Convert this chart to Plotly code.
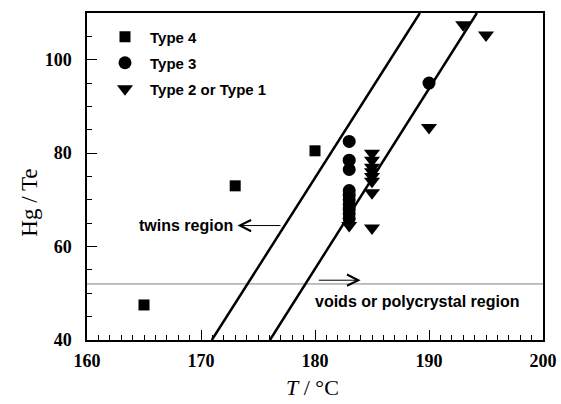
import plotly.graph_objects as go

# Data
type4_T = [165, 173, 180]
type4_R = [47.5, 73, 80.5]

type3_T = [183, 183, 183, 183, 183, 183, 183, 183, 183, 183, 190]
type3_R = [82.5, 78.5, 76.5, 72, 71, 70, 69, 68, 67, 66, 95]

type21_T = [183, 185, 185, 185, 185, 185, 185, 185, 185, 190, 193, 195]
type21_R = [64.5, 80, 78.5, 77, 76, 75, 74, 71.5, 64, 85.5, 107.5, 105.3]

line1_T = [170.95, 189.2]
line1_R = [40, 110]
line2_T = [176.05, 194.2]
line2_R = [40, 110]

hline_T = [160, 200]
hline_R = [52, 52]

x_range = [160, 200]
y_range = [40, 110]
x_ticks = [160, 170, 180, 190, 200]
y_ticks = [40, 60, 80, 100]

sans = "Liberation Sans, Arial, sans-serif"
serif = "Liberation Serif, Times New Roman, serif"

fig = go.Figure()

fig.add_trace(go.Scatter(x=hline_T, y=hline_R, mode="lines",
                         line=dict(color="#808080", width=1),
                         showlegend=False, hoverinfo="skip"))
fig.add_trace(go.Scatter(x=line1_T, y=line1_R, mode="lines",
                         line=dict(color="black", width=2.5),
                         showlegend=False, hoverinfo="skip"))
fig.add_trace(go.Scatter(x=line2_T, y=line2_R, mode="lines",
                         line=dict(color="black", width=2.5),
                         showlegend=False, hoverinfo="skip"))

fig.add_trace(go.Scatter(x=type4_T, y=type4_R, mode="markers", name="Type 4",
                         legendgroup="a",
                         marker=dict(symbol="square", size=11, color="black")))
fig.add_trace(go.Scatter(x=type3_T, y=type3_R, mode="markers", name="Type 3",
                         legendgroup="b",
                         marker=dict(symbol="circle", size=13, color="black")))
fig.add_trace(go.Scatter(x=type21_T, y=type21_R, mode="markers",
                         name="Type 2 or Type 1", legendgroup="c",
                         marker=dict(symbol="triangle-down", size=14, color="black")))

# annotations: region labels with arrows
fig.add_annotation(x=173.2, y=64.5, ax=177.1, ay=64.5, xref="x", yref="y",
                   axref="x", ayref="y", text="", showarrow=True,
                   arrowhead=5, arrowsize=2.2, arrowwidth=1, arrowcolor="black")
fig.add_annotation(x=173.0, y=64.5, text="twins region", showarrow=False,
                   xanchor="right", yanchor="middle",
                   font=dict(family=sans, size=16, color="black", weight="bold"))

fig.add_annotation(x=184.0, y=52.8, ax=180.2, ay=52.8, xref="x", yref="y",
                   axref="x", ayref="y", text="", showarrow=True,
                   arrowhead=5, arrowsize=2.2, arrowwidth=1, arrowcolor="black")
fig.add_annotation(x=179.8, y=48.2, text="voids or polycrystal region",
                   showarrow=False, xanchor="left", yanchor="middle",
                   font=dict(family=sans, size=16, color="black", weight="bold"))

# axis titles as annotations for exact placement
fig.add_annotation(x=-0.125, y=0.42, xref="paper", yref="paper",
                   text="Hg / Te", textangle=-90, showarrow=False,
                   xanchor="center", yanchor="middle",
                   font=dict(family=serif, size=23, color="black"))
fig.add_annotation(x=0.495, y=-0.145, xref="paper", yref="paper",
                   text="<i>T</i> / °C", showarrow=False,
                   xanchor="center", yanchor="middle",
                   font=dict(family=serif, size=22, color="black"))

fig.update_layout(
    width=561, height=404,
    margin=dict(l=87, r=18, t=13, b=64),
    plot_bgcolor="white", paper_bgcolor="white",
    showlegend=True,
    legend=dict(x=0.0285, y=0.977, xanchor="left", yanchor="top",
                bgcolor="rgba(0,0,0,0)", tracegroupgap=3.5,
                font=dict(family=sans, size=15, color="black", weight="bold"),
                itemwidth=40),
)

fig.update_xaxes(
    range=x_range, tickvals=x_ticks, ticktext=[str(v) for v in x_ticks],
    showgrid=False, zeroline=False, automargin=False,
    showline=True, linecolor="black", linewidth=1.5, mirror=True,
    ticks="inside", ticklen=10, tickwidth=1.2, tickcolor="black",
    minor=dict(dtick=1, ticks="inside", ticklen=5, tickwidth=1, tickcolor="black"),
    tickfont=dict(family=serif, size=18, color="black", weight="bold"),
    ticklabelstandoff=4,
)
fig.update_yaxes(
    range=y_range, tickvals=y_ticks, ticktext=[str(v) for v in y_ticks],
    showgrid=False, zeroline=False, automargin=False,
    showline=True, linecolor="black", linewidth=1.5, mirror=True,
    ticks="inside", ticklen=10, tickwidth=1.2, tickcolor="black",
    minor=dict(dtick=5, ticks="inside", ticklen=5, tickwidth=1, tickcolor="black"),
    tickfont=dict(family=serif, size=18, color="black", weight="bold"),
    ticklabelstandoff=10,
)

fig.write_html("out.html",
               config={"displayModeBar": False},
               post_script="document.body.style.margin='0';"
                           "document.body.style.overflow='hidden';")
